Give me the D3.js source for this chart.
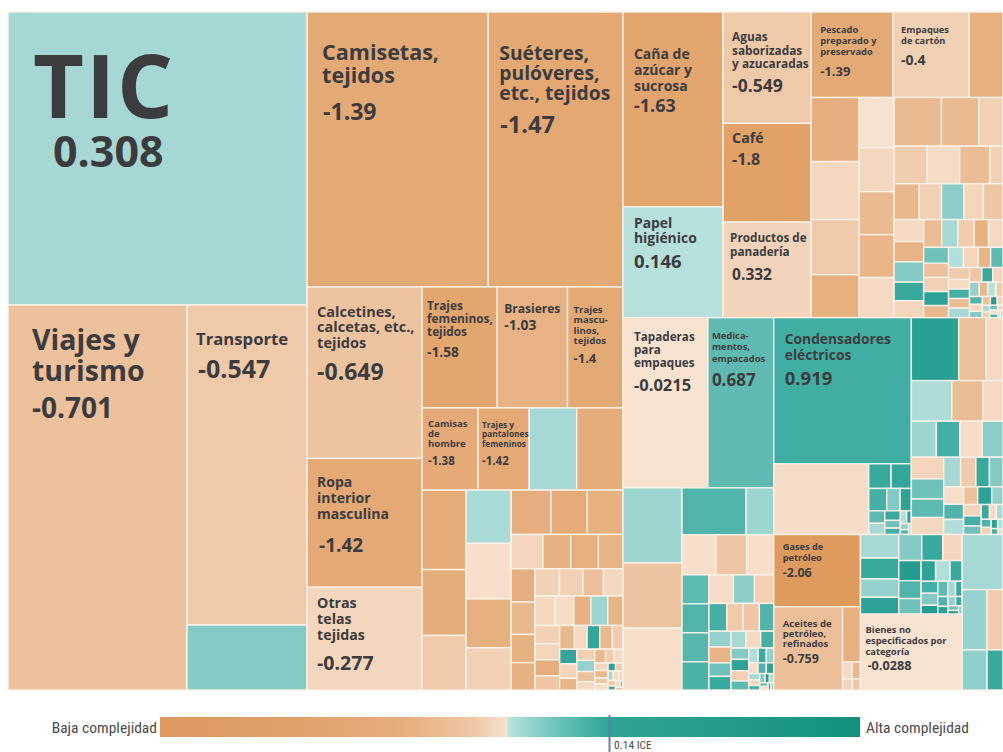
<!DOCTYPE html>
<html><head><meta charset="utf-8">
<script src="https://cdn.jsdelivr.net/npm/d3@7"></script>
<style>
body{margin:0;background:#fff;}
svg{display:block;}
.lbl{font-family:"Open Sans","Noto Sans",sans-serif;font-weight:700;fill:#3c3c3e;}
.leg{font-family:"Liberation Sans Narrow","Roboto Condensed","Open Sans",sans-serif;fill:#4a4a4a;font-stretch:condensed;}
</style></head><body>
<svg id="chart" width="1003" height="752"></svg>
<script>
// ---------- DATA ----------
// Labelled products
const productNames = ["TIC","Viajes y\nturismo","Transporte","Camisetas,\ntejidos","Suéteres,\npulóveres,\netc., tejidos",
  "Calcetines,\ncalcetas, etc.,\ntejidos","Ropa\ninterior\nmasculina","Otras\ntelas\ntejidas","Trajes\nfemeninos,\ntejidos","Brasieres",
  "Trajes\nmascu-\nlinos,\ntejidos","Camisas\nde\nhombre","Trajes y\npantalones\nfemeninos","Caña de\nazúcar y\nsucrosa","Papel\nhigiénico",
  "Aguas\nsaborizadas\ny azucaradas","Café","Productos de\npanadería","Pescado\npreparado y\npreservado","Empaques\nde cartón",
  "Tapaderas\npara\nempaques","Medica-\nmentos,\nempacados","Condensadores\neléctricos","Gases de\npetróleo","Aceites de\npetróleo,\nrefinados",
  "Bienes no\nespecificados por\ncategoría"];
const productPCI = [0.308,-0.701,-0.547,-1.39,-1.47,-0.649,-1.42,-0.277,-1.58,-1.03,-1.4,-1.38,-1.42,-1.63,0.146,-0.549,-1.8,0.332,-1.39,-0.4,-0.0215,0.687,0.919,-2.06,-0.759,-0.0288];
const productSize = [876,689,384,498,370,197,148,118,91,85,67,46,42,195,111,98,87,84,70,65,144.5,112,201,62.6,57.3,77];
const fillOverride = {17: -0.33};

// Unlabelled products: [size, complexity]
const servicesOther = [[78,0.48]];
const textilesRow2 = [[39,0.3],[38,-1.25]];
const textilesColA = [[35,-1.3],[29,-1.25],[24,-0.55]];
const textilesColB = [[24,0.28],[25,-0.08],[22,-1.15],[19,-0.35]];
const textilesRowA = [[17.6,-1.2],[16.2,-1.3],[15.8,-1.15]];
const textilesRowB = [[10.9,-0.3],[9.5,-1.1],[9.5,-1.15],[8.4,-1.0]];
const textilesColC = [[7.9,-1.2],[7.7,-0.9],[6.7,-1.15],[6.5,-1.1]];
const textilesRowC = [[6.7,-0.35],[6.4,-0.4],[5.6,-0.75],[5.3,-0.25]];
const textilesSmall = [[6,-0.25],[5.5,-0.15],[5,-1.1],[5,0.35],[4.5,-1.0],[4.5,-0.4],[4,-0.3],[4,-1.2],[3.5,-0.6],[3.5,-0.9],[3,-0.2],[3,1.05],[3,-0.9],[2.5,-0.5],[2.5,1.05],[2.5,-0.3],[2,-1.0],[2,-0.4],[2,0.4],[1.8,-0.7],[1.5,-0.2],[1.5,-0.9],[1.2,-0.5],[1.2,-0.15],[1,-0.3],[1,-0.9],[0.8,-0.6],[0.8,-0.1],[0.6,1.1],[0.6,-0.5],[0.5,0.3],[0.5,-0.2],[0.4,-0.3],[0.4,-0.6],[0.3,1.0],[0.3,-0.3],[0.2,0.5],[0.2,-0.8]];
const foodTopRight = [[29,-1.15]];
const foodColA = [[30.7,-1.2],[27.8,-0.25],[26.4,-0.55],[20.6,-1.15]];
const foodColB = [[17.5,-0.05],[15.4,-0.25],[15,-0.85],[15,-0.95],[14,-0.2]];
const foodRowA = [[23,-0.85],[18.1,-0.85],[11.8,-0.4]];
const foodRowB = [[12.5,-0.45],[12.2,-0.15],[11.4,-0.8],[4.9,-0.35]];
const foodSmall = [[9,-0.9],[8,-0.4],[8,0.45],[7,-0.3],[7,-0.6],[6.5,-0.2],[6,-1.0],[6,0.5],[5.5,1.0],[5,-0.3],[5,-0.8],[4.5,0.3],[4.5,-0.5],[4,-1.1],[4,-0.2],[4,0.6],[3.5,-0.7],[3.5,-0.4],[3.5,1.1],[3,-0.9],[3,0.2],[3,-0.3],[2.5,-1.0],[2.5,0.7],[2.5,-0.5],[2,-0.2],[2,0.9],[2,-0.8],[2,0.3],[1.8,-0.6],[1.6,1.0],[1.5,-0.3],[1.4,0.4],[1.2,-0.9],[1.2,0.1],[1,-0.5],[1,0.8],[0.9,-0.2],[0.8,0.5],[0.7,-0.7],[0.6,1.2],[0.5,-0.3],[0.5,0.3],[0.4,-0.5],[0.4,0.6],[0.3,-0.1],[0.3,0.9],[0.25,-0.4],[0.2,0.2],[0.2,-0.6]];
const mixColA = [[44.3,0.35],[38.4,-0.68],[36.6,-0.1]];
const mixRowA = [[30,0.8],[13,0.35]];
const mixRowB = [[13.6,-0.08],[12.4,-0.6],[10.8,-0.1]];
const mixColB = [[7.8,0.7],[7.8,0.8],[7.8,0.75],[7.6,0.85]];
const mixSmall = [[7,-0.15],[6,0.45],[5.5,-0.4],[5,0.9],[4.5,-0.55],[4.5,-0.6],[4,0.8],[3.5,0.4],[3.5,-1.0],[3,0.6],[3,1.0],[2.5,0.3],[2.5,-0.2],[2.2,0.9],[2,0.5],[2,1.1],[1.8,-0.4],[1.6,0.7],[1.4,0.2],[1.2,1.0],[1.1,0.4],[1,-0.1],[0.9,0.8],[0.8,1.1],[0.7,0.3],[0.6,-0.3],[0.5,0.9],[0.5,0.5],[0.4,1.2],[0.4,0.1],[0.3,0.7],[0.3,-0.2],[0.2,1.0],[0.2,0.4]];
const elecBelow = [[67.2,-0.12]];
const elecSmall = [[5.5,1.0],[5,1.05],[4,0.9],[3,0.5],[2.5,1.1],[2,0.7],[1.8,0.3],[1.5,1.0],[1.2,0.6],[1,0.9],[0.8,0.2],[0.6,1.1],[0.5,0.4],[0.4,0.8],[0.3,0.3]];
const machRowA = [[29.8,1.15],[17.4,-0.72],[10.5,-0.2]];
const machRowB = [[16.4,0.22],[12.8,-0.8],[8,-0.2]];
const machSmall = [[9,0.35],[8.5,0.9],[8,-0.15],[7.5,0.45],[7,-0.3],[6.5,0.6],[6,0.7],[5.5,-0.25],[5,0.3],[4.5,-0.5],[4,1.0],[4,0.5],[3.5,-0.1],[3,0.8],[3,0.2],[2.5,-0.7],[2.5,1.1],[2,0.4],[2,-0.3],[1.8,0.9],[1.5,0.6],[1.2,1.0],[1,-0.2],[1,0.3],[0.8,0.8],[0.7,-0.4],[0.6,1.1],[0.5,0.2],[0.4,0.9],[0.3,-0.2]];
const oilStrip = [[9.9,-1.15]];
const oilSmall = [[1.6,-0.2],[1.4,-0.9],[1.1,-0.3],[0.9,-0.6]];
const miscSmall = [[9,0.3],[8,1.0],[7,0.4],[6.5,1.1],[6,0.5],[5.5,1.0],[5,-0.3],[4.5,1.2],[4,0.8],[3.5,0.6],[3,1.1],[3,0.2],[2.5,1.0],[2,0.9],[2,0.5],[1.5,1.2],[1.5,0.7],[1.2,0.3],[1,1.0],[1,0.8],[0.8,1.1],[0.7,0.4],[0.6,1.0],[0.5,0.6],[0.4,1.2],[0.3,0.5]];
const edgeTop = [[22.5,0.3]];
const edgeMid = [[15,0.38],[9.6,-0.5]];
const edgeBot = [[10,0.42],[6.4,1.0]];

// Legend
const legendLow = "Baja complejidad", legendHigh = "Alta complejidad";
const countryLabel = "0.14 ICE";

// ---------- STYLE (label typography: nameSize, valueSize, padX, valuePadX, firstBaseline, lineHeight, valueBaseline) ----------
const labelStyle = [
 [88,43,25,45,106,0,155],[28.5,28,24,24,45,31,113],[16.7,25,9,11,40,0,73],[21.5,23,15,16,48,23,108],[19.3,23.5,11,12,48,20,121],
 [14.5,23,10,10,30,15.5,93],[14,19,10,12,29,16,94],[14.2,19.5,10,10,21,16,83],[11.8,13.7,5,5,23,13,70],[12,13.8,7,7,26,0,43],
 [9.6,13,6,6,26,10.5,76],[9.6,11.5,6,6,19,10,57],[8.3,11.5,4,4,20,9.5,57],[14,18,11,11,47,16,100],[13.9,18.5,11,11,21,15,61],
 [11.8,17.5,9,9,29,13.5,80],[14.2,16,9,9,20,0,42],[11.7,15.5,7,9,20,14,58],[9.3,13,9,9,21,11,64],[9.3,14,8,8,21,11,53],
 [11.7,16.5,11,11,23,13,73],[9.4,17,4,4,21,11.5,68],[13.8,18.5,11,11,26,16,67],[9.2,12.5,9,9,15,11,42],[9.6,12.5,9,9,20,10,56],
 [9.4,12.7,5,7,19,11,56]];

// ---------- COLOUR ----------
const negScale = d3.scaleLinear().domain([-2.1,-1,0]).range(["#de9a5c","#e8b385","#f8e3d2"]).clamp(true);
const posScale = d3.scaleLinear().domain([0,0.3,0.7,1.0,1.3]).range(["#c3e7e3","#a6d9d5","#5dbab1","#37a99d","#1a968a"]).clamp(true);
const colorOf = v => v < 0 ? negScale(v) : posScale(v);

// ---------- HIERARCHY ----------
const H = (...c) => ({dir:"h", children:c});
const V = (...c) => ({dir:"v", children:c});
const S = (...c) => ({dir:"s", children:c});
const P = i => ({prod:i, size:productSize[i], pci:(i in fillOverride ? fillOverride[i] : productPCI[i])});
const Fs = arr => arr.map(([size,pci]) => ({size,pci}));

const colA = V(P(0), H(P(1), V(P(2), ...Fs(servicesOther))));
const textRest = H(V(...Fs(textilesColA)), V(...Fs(textilesColB)),
  V(H(...Fs(textilesRowA)), H(...Fs(textilesRowB)),
    H(V(...Fs(textilesColC)), V(H(...Fs(textilesRowC)), S(...Fs(textilesSmall))))));
const textRight = V(H(P(8), P(9), P(10)), H(P(11), P(12), ...Fs(textilesRow2)), textRest);
const colB = V(H(P(3), P(4)), H(V(P(5), P(6), P(7)), textRight));
const foodRest = H(V(...Fs(foodColA)), V(...Fs(foodColB)),
  V(H(...Fs(foodRowA)), H(...Fs(foodRowB)), S(...Fs(foodSmall))));
const colCTop = H(V(P(13), P(14)), V(P(15), P(16), P(17)),
  V(H(P(18), P(19), ...Fs(foodTopRight)), foodRest));
const mixRest = H(V(...Fs(mixColA)),
  V(H(...Fs(mixRowA)), H(...Fs(mixRowB)), H(V(...Fs(mixColB)), S(...Fs(mixSmall)))));
const colCBottomLeft = V(H(P(20), P(21)), mixRest);
const elecUpper = H(V(P(22), H(...Fs(elecBelow), S(...Fs(elecSmall)))),
  V(H(...Fs(machRowA)), H(...Fs(machRowB)), S(...Fs(machSmall))));
const elecLower = H(V(P(23), H(P(24), V(...Fs(oilStrip), S(...Fs(oilSmall))))),
  V(S(...Fs(miscSmall)), P(25)),
  V(...Fs(edgeTop), H(...Fs(edgeMid)), H(...Fs(edgeBot))));
const colCBottom = H(colCBottomLeft, V(elecUpper, elecLower));
const colC = V(colCTop, colCBottom);
const tree = H(colA, colB, colC);

function tile(node, x0, y0, x1, y1) {
  const d = node.data.dir;
  const f = d === "h" ? d3.treemapDice : d === "v" ? d3.treemapSlice : d3.treemapSquarify;
  f(node, x0, y0, x1, y1);
}

const root = d3.hierarchy(tree).sum(d => d.children ? 0 : d.size);
d3.treemap().tile(tile).size([995, 678]).round(false)(root);

const svg = d3.select("#chart");
const g = svg.append("g").attr("transform","translate(8,12)");
const leaves = root.leaves();
g.selectAll("rect").data(leaves).join("rect")
  .attr("x", d => d.x0).attr("y", d => d.y0)
  .attr("width", d => Math.max(0, d.x1 - d.x0)).attr("height", d => Math.max(0, d.y1 - d.y0))
  .attr("fill", d => colorOf(d.data.pci))
  .attr("stroke", "#fcf2e8").attr("stroke-width", 1.4);

leaves.filter(d => d.data.prod !== undefined).forEach(d => {
  const i = d.data.prod, st = labelStyle[i];
  const t = g.append("text").attr("class","lbl").attr("font-size", st[0]);
  if (i === 0) t.attr("font-weight", 800).attr("letter-spacing", 2);
  productNames[i].split("\n").forEach((ln, k) =>
    t.append("tspan").attr("x", d.x0 + st[2]).attr("y", d.y0 + st[4] + k * st[5]).text(ln));
  g.append("text").attr("class","lbl").attr("font-size", st[1])
    .attr("x", d.x0 + st[3]).attr("y", d.y0 + st[6]).text(String(productPCI[i]));
});

// ---------- LEGEND ----------
const legendStops = [[0,"#dc9860"],[0.2,"#e1a16b"],[0.35,"#e6ae7e"],[0.45,"#efc8a6"],[0.496,"#f6e1cf"],[0.497,"#b8e2de"],[0.56,"#72c6bd"],[0.64,"#2fa597"],[1,"#13917e"]];
const grad = svg.append("defs").append("linearGradient").attr("id","lg");
legendStops.forEach(([o,c]) => grad.append("stop").attr("offset", o).attr("stop-color", c));
const lx = d3.scaleLinear().domain([0,1]).range([160,860]);
svg.append("rect").attr("x", lx(0)).attr("y", 717).attr("width", lx(1)-lx(0)).attr("height", 20).attr("fill","url(#lg)");
svg.append("text").attr("class","leg").attr("x",157).attr("y",733).attr("text-anchor","end").attr("font-size",15.5).text(legendLow);
svg.append("text").attr("class","leg").attr("x",866).attr("y",733).attr("font-size",15.5).text(legendHigh);
const mx = 609.5;
svg.append("line").attr("x1",mx).attr("x2",mx).attr("y1",715).attr("y2",752).attr("stroke","#6c7fa6").attr("stroke-width",2);
svg.append("text").attr("class","leg").attr("x",614).attr("y",749).attr("font-size",11.5).text(countryLabel);
</script>
</body></html>
